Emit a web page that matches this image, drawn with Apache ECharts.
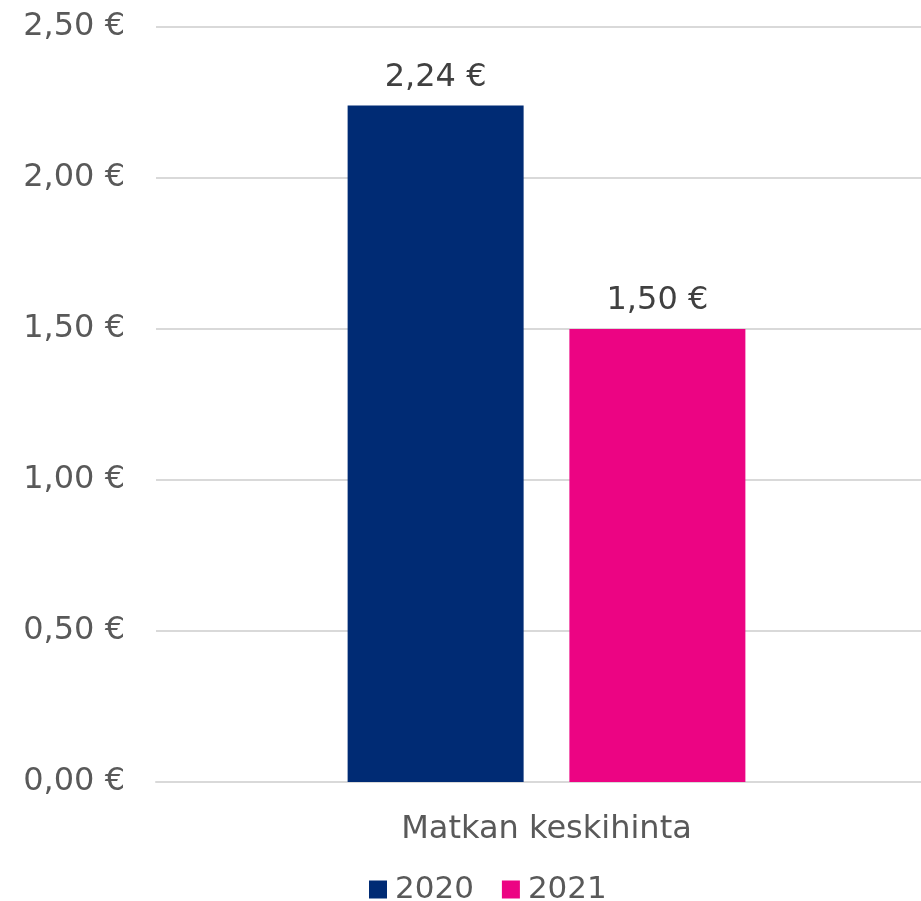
<!DOCTYPE html>
<html>
<head>
<meta charset="utf-8">
<script src="https://cdn.jsdelivr.net/npm/echarts@6/dist/echarts.min.js"></script>
<style>
  html, body { margin: 0; padding: 0; background: #fff; overflow: hidden; }
  #main { width: 937px; height: 901px; }
</style>
</head>
<body>
<div id="main"></div>
<script>
var categories = ['Matkan keskihinta'];
var years = ['2020', '2021'];
var values2020 = [2.24];
var values2021 = [1.50];
var colors = ['#002B74', '#EC0483'];

function euro(v) {
  return v.toFixed(2).replace('.', ',') + ' €';
}

window.onload = function () {
  var chart = echarts.init(document.getElementById('main'));
  var font = 'DejaVu Sans, Verdana, sans-serif';

  var opt = {
    animation: false,
    textStyle: { fontFamily: font },
    grid: { left: 156, right: 0, top: 27, bottom: 119 },
    legend: {
      data: years,
      left: 364,
      top: 869,
      itemWidth: 18,
      itemHeight: 18,
      itemGap: 28,
      icon: 'rect',
      textStyle: { fontSize: 31, color: '#595959', fontFamily: font, padding: [0, 0, 0, 3] }
    },
    xAxis: {
      type: 'category',
      data: categories,
      axisLine: { lineStyle: { color: '#d9d9d9', width: 2 } },
      axisTick: { show: false },
      axisLabel: { fontSize: 32, color: '#595959', margin: 32, fontFamily: font }
    },
    yAxis: {
      type: 'value',
      min: 0,
      max: 2.5,
      interval: 0.5,
      axisLine: { show: false },
      axisTick: { show: false },
      splitLine: { lineStyle: { color: '#d9d9d9', width: 2 } },
      axisLabel: { fontSize: 32, color: '#595959', margin: 31, fontFamily: font, formatter: euro }
    },
    series: [{
      name: years[0],
      type: 'bar',
      data: values2020,
      barWidth: 176,
      barGap: '26%',
      itemStyle: { color: colors[0] },
      label: { show: true, position: 'top', distance: 12, fontSize: 32, color: '#404040', fontFamily: font, formatter: function (p) { return euro(p.value); } }
    }, {
      name: years[1],
      type: 'bar',
      data: values2021,
      barWidth: 176,
      itemStyle: { color: colors[1] },
      label: { show: true, position: 'top', distance: 12, fontSize: 32, color: '#404040', fontFamily: font, formatter: function (p) { return euro(p.value); } }
    }]
  };

  chart.setOption(opt);
};
</script>
</body>
</html>
